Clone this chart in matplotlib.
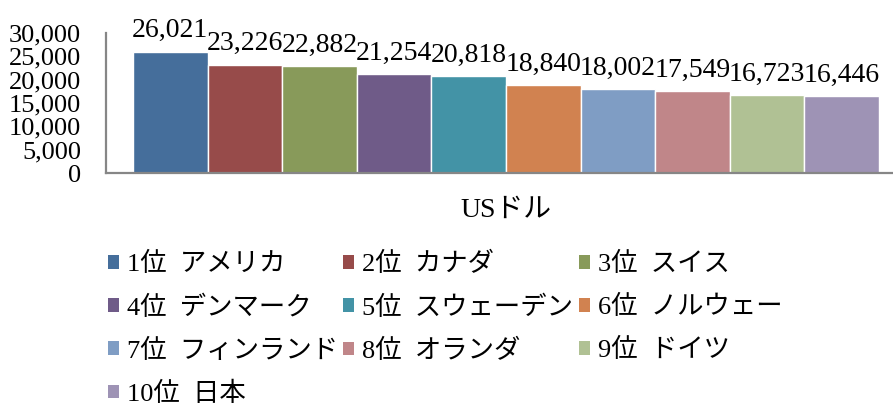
import matplotlib
matplotlib.use("Agg")
import matplotlib.pyplot as plt
from matplotlib.patches import Patch

plt.rcParams['font.family'] = ['Liberation Serif', 'Noto Sans CJK JP']

category = "USドル"
series_names = ["1位  アメリカ", "2位  カナダ", "3位  スイス", "4位  デンマーク",
                "5位  スウェーデン", "6位  ノルウェー", "7位  フィンランド",
                "8位  オランダ", "9位  ドイツ", "10位  日本"]
values = [26021, 23226, 22882, 21254, 20818, 18840, 18002, 17549, 16723, 16446]
colors = ["#456E9B", "#974B4A", "#889A5A", "#6F5B88", "#4393A6",
          "#D18250", "#7F9DC4", "#C08689", "#B0C194", "#9E93B5"]
yticks = [0, 5000, 10000, 15000, 20000, 25000, 30000]

W, H = 893, 409
fig = plt.figure(figsize=(W/100, H/100), dpi=100)
ax = fig.add_axes([106/W, 1-173/H, (892-106)/W, (173-33)/H])

w = 0.08
n = len(values)
for i, (name, v, c) in enumerate(zip(series_names, values, colors)):
    x = 0 + (i - (n-1)/2) * w
    bars = ax.bar([x], [v], width=w, color=c, edgecolor='white', linewidth=1.0, label=name)
    ax.bar_label(bars, labels=[f"{v:,}"], padding=6, fontsize=20)

ax.set_xlim(-n/2*w - 0.361*w, n/2*w + 0.174*w)
ax.set_ylim(0, 30000)
ax.set_yticks(yticks)
ax.set_yticklabels([f"{t:,}" for t in yticks], fontsize=19)
ax.set_xticks([0])
ax.set_xticklabels([category], fontsize=20)
ax.tick_params(axis='y', length=0, pad=18)
ax.tick_params(axis='x', length=0, pad=18)
for s in ['top', 'right']:
    ax.spines[s].set_visible(False)
for s in ['left', 'bottom']:
    ax.spines[s].set_color('#868686')
    ax.spines[s].set_linewidth(1.6)

handles = [Patch(facecolor=c, edgecolor='none') for c in colors]
order = [0, 3, 6, 9, 1, 4, 7, 2, 5, 8]
leg = fig.legend([handles[i] for i in order], [series_names[i] for i in order],
                 ncol=3, loc='upper left', bbox_to_anchor=(108/W, 1-252/H),
                 frameon=False, fontsize=19, handlelength=0.42, handleheight=0.42,
                 handletextpad=0.3, columnspacing=0.2, labelspacing=0.72,
                 borderaxespad=0, borderpad=0)

fig.savefig("out.png", dpi=100)
